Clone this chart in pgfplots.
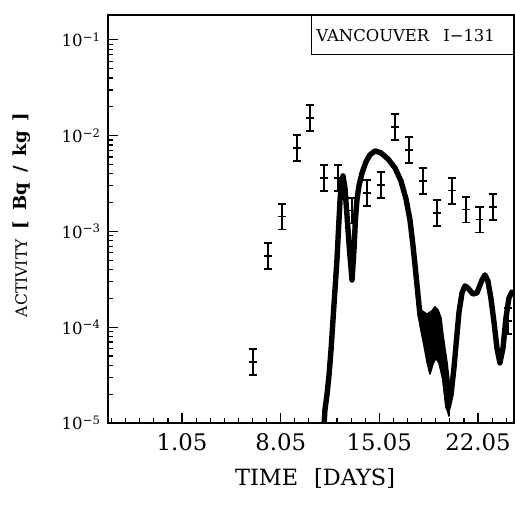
\documentclass[border=0pt]{standalone}
\usepackage{fontspec}
\setmainfont{DejaVu Serif}
\usepackage{pgfplots}
\pgfplotsset{compat=1.18}
\begin{document}
\begin{tikzpicture}
\useasboundingbox (0,0) rectangle (257.5pt,253pt);
\begin{axis}[
  at={(54pt,41.5pt)}, anchor=south west,
  scale only axis, width=203pt, height=204pt,
  ymode=log, xmin=-4.25, xmax=24.55, ymin=1e-5, ymax=0.182,
  axis line style={line width=0.7pt},
  xtick={1,8,15,22}, xticklabels={1.05,8.05,15.05,22.05},
  minor xtick={-4,-3,...,24},
  ytick={1e-5,1e-4,1e-3,1e-2,1e-1},
  yticklabels={10\textsuperscript{−5},10\textsuperscript{−4},10\textsuperscript{−3},10\textsuperscript{−2},10\textsuperscript{−1}},
  minor ytick={2e-5,3e-5,4e-5,5e-5,6e-5,7e-5,8e-5,9e-5,2e-4,3e-4,4e-4,5e-4,6e-4,7e-4,8e-4,9e-4,2e-3,3e-3,4e-3,5e-3,6e-3,7e-3,8e-3,9e-3,2e-2,3e-2,4e-2,5e-2,6e-2,7e-2,8e-2,9e-2},
  xtick pos=bottom, ytick pos=left, tick align=inside,
  major tick length=5pt, minor tick length=2.5pt,
  tick style={line width=0.6pt, black},
  xticklabel style={font=\fontsize{11.4}{13}\selectfont, yshift=-2pt},
  yticklabel style={font=\fontsize{8.3}{9}\selectfont},
  xlabel={TIME\hspace{8pt}[DAYS]},
  ylabel={{\fontsize{7.8}{8}\selectfont ACTIVITY}\hspace{5pt}{\fontsize{9}{10}\selectfont\bfseries [\hspace{5pt}Bq\hspace{5pt}/\hspace{5pt}kg\hspace{5pt}]}},
  every axis x label/.style={at={(axis description cs:0.51,-0.137)}, anchor=center, font=\fontsize{11.2}{13}\selectfont},
  every axis y label/.style={at={(axis description cs:-0.212,0.51)}, rotate=90, anchor=center},
]
% measured points with error bars
\addplot[only marks, black, mark=+, mark size=1.8pt, line width=0.6pt,
  error bars/.cd, y dir=both, y explicit relative,
  error bar style={line width=0.8pt, black},
  error mark options={rotate=90, line width=0.8pt, mark size=2.2pt, black}]
coordinates {
(6.04,4.34e-5) +=(0,0.36) -=(0,0.265)
(7.10,5.55e-4) +=(0,0.36) -=(0,0.265)
(8.09,1.42e-3) +=(0,0.36) -=(0,0.265)
(9.16,7.45e-3) +=(0,0.36) -=(0,0.265)
(10.08,1.53e-2) +=(0,0.36) -=(0,0.265)
(11.07,3.62e-3) +=(0,0.36) -=(0,0.265)
(12.06,3.62e-3) +=(0,0.36) -=(0,0.265)
(13.06,1.64e-3) +=(0,0.36) -=(0,0.265)
(14.12,2.52e-3) +=(0,0.36) -=(0,0.265)
(15.11,3.06e-3) +=(0,0.36) -=(0,0.265)
(16.11,1.23e-2) +=(0,0.36) -=(0,0.265)
(17.10,7.10e-3) +=(0,0.36) -=(0,0.265)
(18.09,3.37e-3) +=(0,0.36) -=(0,0.265)
(19.09,1.56e-3) +=(0,0.36) -=(0,0.265)
(20.15,2.65e-3) +=(0,0.36) -=(0,0.265)
(21.14,1.68e-3) +=(0,0.36) -=(0,0.265)
(22.13,1.32e-3) +=(0,0.36) -=(0,0.265)
(23.06,1.80e-3) +=(0,0.36) -=(0,0.265)
(24.12,1.16e-4) +=(0,0.36) -=(0,0.265)
};
% model band (centre line drawn thick)
\addplot[black, line width=2.7pt, line join=round, line cap=round] coordinates {
(11.00,6.6e-6) (11.14,1.368e-5) (11.28,1.96e-5) (11.43,3.17e-5) (11.57,5.78e-5)
(11.71,1.19e-4) (11.85,2.45e-4) (11.99,5.03e-4) (12.10,1.04e-3) (12.21,2.13e-3)
(12.31,3.29e-3) (12.42,3.80e-3) (12.56,2.84e-3) (12.70,1.49e-3) (12.88,6.41e-4)
(13.06,3.11e-4) (13.20,6.41e-4) (13.30,1.32e-3) (13.41,2.13e-3) (13.55,2.99e-3)
(13.77,4.08e-3) (14.05,5.32e-3) (14.33,6.30e-3) (14.69,6.93e-3) (15.11,6.61e-3)
(15.61,5.71e-3) (16.11,4.60e-3) (16.53,3.37e-3) (16.89,2.18e-3) (17.17,1.32e-3)
(17.38,7.23e-4) (17.60,3.52e-4) (17.88,1.34e-4) (18.23,8.30e-5) (18.59,7.36e-5)
(19.01,8.91e-5) (19.37,6.53e-5) (19.65,2.81e-5) (19.87,1.44e-5) (20.08,1.96e-5)
(20.29,3.75e-5) (20.47,7.36e-5) (20.65,1.44e-4) (20.86,2.28e-4) (21.07,2.70e-4)
(21.28,2.57e-4) (21.64,2.22e-4) (21.92,2.28e-4) (22.28,3.11e-4) (22.49,3.52e-4)
(22.70,3.04e-4) (22.91,2.02e-4) (23.13,1.135e-4) (23.34,6.07e-5) (23.55,4.24e-5)
(23.77,6.07e-5) (23.98,1.25e-4) (24.19,2.02e-4) (24.40,2.33e-4) (24.69,2.22e-4)
};
% wide part of the band
\addplot[black, fill=black, line width=0.8pt, line join=round] coordinates {
(17.52,3.96e-4) (17.74,1.93e-4) (18.02,1.48e-4) (18.38,1.37e-4) (18.73,1.48e-4)
(18.94,1.63e-4) (19.16,1.51e-4) (19.37,1.25e-4) (19.51,8.30e-5) (19.79,4.34e-5)
(20.01,2.21e-5)
(19.94,1.18e-5) (19.72,1.54e-5) (19.51,2.81e-5) (19.23,4.24e-5) (19.01,4.77e-5)
(18.80,4.13e-5) (18.59,3.25e-5) (18.38,4.34e-5) (18.16,6.53e-5) (17.88,1.05e-4)
(17.67,1.93e-4) (17.45,3.96e-4)
} -- cycle;
\node[draw, line width=0.6pt, anchor=north east, minimum width=101pt, minimum height=19.5pt,
  inner xsep=2.5pt, text width=96pt, align=left, font=\fontsize{8.2}{9}\selectfont]
  at (rel axis cs:1,1) {VANCOUVER\hspace{7pt}I−131};
\end{axis}
\end{tikzpicture}
\end{document}
